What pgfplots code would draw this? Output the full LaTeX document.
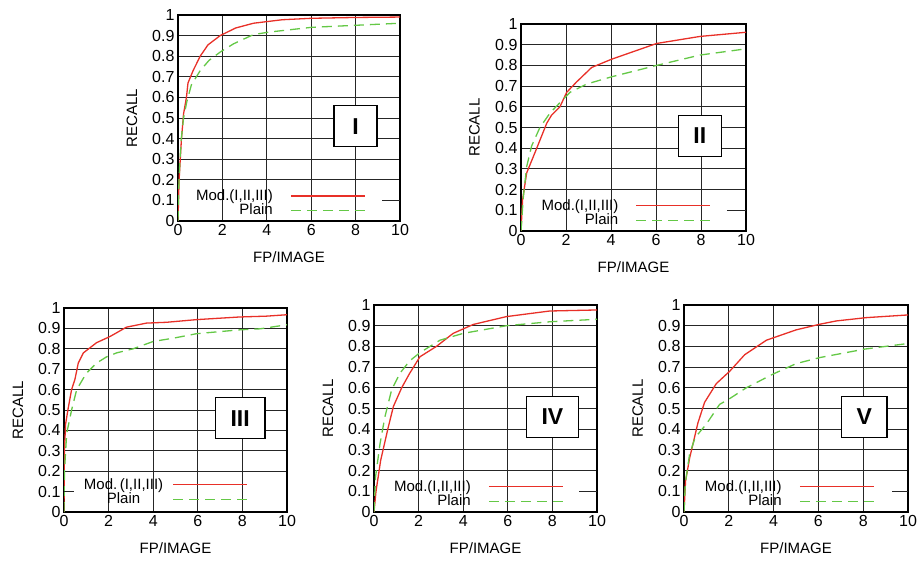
\documentclass[border=0pt]{standalone}
\usepackage{fontspec}
\setmainfont{Liberation Sans}
\usepackage{pgfplots}
\pgfplotsset{compat=1.18}
\definecolor{modred}{RGB}{232,48,40}
\definecolor{plaingreen}{RGB}{100,200,70}
\tikzset{
  tagbox/.style={draw=black, line width=1.5pt, fill=white, minimum height=41pt, minimum width=43pt, inner xsep=15pt, font=\fontsize{23}{23}\selectfont\bfseries},
  modline/.style={modred, line width=1.3pt},
  plainline/.style={plaingreen, line width=1.3pt, dash pattern=on 10pt off 6pt},
}
\pgfplotsset{
  roc/.style={
    scale only axis,
    xmin=0, xmax=10, ymin=0, ymax=1,
    xtick={0,2,4,6,8,10},
    ytick={0,0.2,0.3,0.4,0.5,0.6,0.7,0.8,0.9,1},
    extra y ticks={0.1},
    extra y tick style={grid=none},
    grid=major,
    grid style={black!85, line width=0.9pt},
    axis line style={line width=1.2pt},
    major tick length=0pt,
    /pgf/number format/assume math mode=true,
    tick label style={font=\fontsize{16}{16}\selectfont},
    xlabel={FP/IMAGE}, ylabel={RECALL},
    every axis y label/.style={at={(axis description cs:-0.207,0.5)}, rotate=90, anchor=center, font=\fontsize{15}{15}\selectfont},
    every axis x label/.style={at={(axis description cs:0.5,-0.175)}, anchor=center, font=\fontsize{15}{15}\selectfont},
    legend cell align=right,
    legend plot pos=right,
    legend image code/.code={\draw[##1] (0pt,0pt) -- (74pt,0pt);},
    legend style={draw=none, fill=none, inner sep=0pt, outer sep=0pt, row sep=-1pt,
      font=\fontsize{15}{15}\selectfont, nodes={inner sep=1.5pt},
      /tikz/every odd column/.append style={column sep=16pt}},
  },
}
\begin{document}
\begin{tikzpicture}
\path[use as bounding box] (0pt,0pt) rectangle (920pt,560pt);
% ---------- I ----------
\begin{axis}[roc, at={(178pt,339pt)}, anchor=south west, width=222pt, height=206pt,
  legend style={at={(axis cs:8.45,0.015)}, anchor=south east}]
\addplot[modline] coordinates {(0,0) (0.05,0.2) (0.15,0.39) (0.25,0.52) (0.38,0.6) (0.45,0.67) (0.68,0.73) (1.0,0.8) (1.35,0.855) (1.9,0.9) (2.6,0.937) (3.4,0.96) (4.7,0.977) (6,0.984) (8,0.988) (10,0.99)};
\addlegendentry{Mod.(I,II,III)}
\addplot[plainline] coordinates {(0,0) (0.03,0.15) (0.08,0.28) (0.15,0.4) (0.25,0.5) (0.4,0.58) (0.6,0.66) (1.0,0.73) (1.4,0.78) (1.9,0.82) (2.5,0.86) (3.4,0.905) (4.1,0.917) (6,0.94) (8,0.95) (10,0.96)};
\addlegendentry{Plain}
\addplot[black!85, line width=0.9pt, forget plot] coordinates {(9.2,0.1) (10,0.1)};
\node[tagbox] at (axis cs:8,0.46) {I};
\end{axis}
% ---------- II ----------
\begin{axis}[roc, at={(521pt,329pt)}, anchor=south west, width=225pt, height=207pt,
  legend style={at={(axis cs:8.45,0.015)}, anchor=south east}]
\addplot[modline] coordinates {(0,0) (0.07,0.15) (0.25,0.28) (0.7,0.4) (1.14,0.52) (1.36,0.56) (1.73,0.6) (2.03,0.67) (2.47,0.72) (3.14,0.79) (4.03,0.83) (6.03,0.906) (7.96,0.94) (10,0.96)};
\addlegendentry{Mod.(I,II,III)}
\addplot[plainline] coordinates {(0,0) (0.1,0.16) (0.25,0.31) (0.47,0.41) (0.84,0.5) (1.29,0.57) (1.73,0.62) (2.18,0.67) (2.92,0.71) (4.03,0.745) (6.03,0.80) (7.96,0.85) (10,0.88)};
\addlegendentry{Plain}
\addplot[black!85, line width=0.9pt, forget plot] coordinates {(9.15,0.1) (10,0.1)};
\node[tagbox] at (axis cs:7.95,0.46) {II};
\end{axis}
% ---------- III ----------
\begin{axis}[roc, at={(64pt,48pt)}, anchor=south west, width=223pt, height=204pt,
  legend cell align=center,
  legend style={at={(axis cs:8.25,0.025)}, anchor=south east, /tikz/every odd column/.append style={column sep=8pt}}]
\addplot[modline] coordinates {(0,0) (0.02,0.3) (0.07,0.43) (0.19,0.51) (0.34,0.6) (0.49,0.65) (0.64,0.73) (0.87,0.78) (1.46,0.83) (2.06,0.86) (2.8,0.906) (3.7,0.926) (4.6,0.93) (5.94,0.943) (7.88,0.956) (9.07,0.96) (10,0.967)};
\addlegendentry{Mod.\,(I,II,III)}
\addplot[plainline] coordinates {(0,0) (0.02,0.2) (0.12,0.385) (0.34,0.5) (0.57,0.6) (1.0,0.68) (1.46,0.73) (1.9,0.76) (2.36,0.78) (3.1,0.8) (4,0.836) (4.9,0.852) (5.94,0.874) (7.88,0.893) (8.8,0.898) (10,0.918)};
\addlegendentry{Plain}
\addplot[black!85, line width=0.9pt, forget plot] coordinates {(0,0.1) (0.45,0.1)};
\node[tagbox] at (axis cs:7.9,0.46) {III};
\end{axis}
% ---------- IV ----------
\begin{axis}[roc, at={(374pt,48pt)}, anchor=south west, width=223pt, height=207pt,
  legend style={at={(axis cs:8.5,0.015)}, anchor=south east}]
\addplot[modline] coordinates {(0,0) (0.09,0.1) (0.3,0.25) (0.64,0.41) (0.87,0.51) (1.24,0.6) (1.6,0.67) (2.06,0.75) (2.8,0.8) (3.55,0.863) (4.45,0.906) (5.94,0.944) (7.88,0.971) (10,0.976)};
\addlegendentry{Mod.(I,II,III)}
\addplot[plainline] coordinates {(0,0) (0.07,0.17) (0.27,0.33) (0.49,0.46) (0.79,0.59) (1.16,0.67) (1.6,0.73) (2.06,0.77) (2.96,0.83) (4,0.863) (5.94,0.9) (7.88,0.919) (10,0.931)};
\addlegendentry{Plain}
\addplot[black!85, line width=0.9pt, forget plot] coordinates {(9.2,0.1) (10,0.1)};
\node[tagbox] at (axis cs:8,0.46) {IV};
\end{axis}
% ---------- V ----------
\begin{axis}[roc, at={(684pt,48pt)}, anchor=south west, width=224pt, height=207pt,
  legend style={at={(axis cs:8.5,0.015)}, anchor=south east}]
\addplot[modline] coordinates {(0,0) (0.07,0.15) (0.25,0.26) (0.62,0.43) (0.92,0.53) (1.44,0.62) (2.04,0.68) (2.71,0.76) (3.68,0.83) (5.01,0.88) (6.06,0.907) (6.8,0.923) (8.14,0.939) (10,0.952)};
\addlegendentry{Mod.(I,II,III)}
\addplot[plainline] coordinates {(0,0) (0.06,0.14) (0.25,0.28) (0.5,0.36) (1.0,0.425) (1.59,0.52) (2,0.545) (2.78,0.6) (3.97,0.666) (5.01,0.717) (6.06,0.746) (8.07,0.787) (10,0.814)};
\addlegendentry{Plain}
\addplot[black!85, line width=0.9pt, forget plot] coordinates {(9.3,0.1) (10,0.1)};
\node[tagbox] at (axis cs:8.05,0.46) {V};
\end{axis}
\end{tikzpicture}
\end{document}
